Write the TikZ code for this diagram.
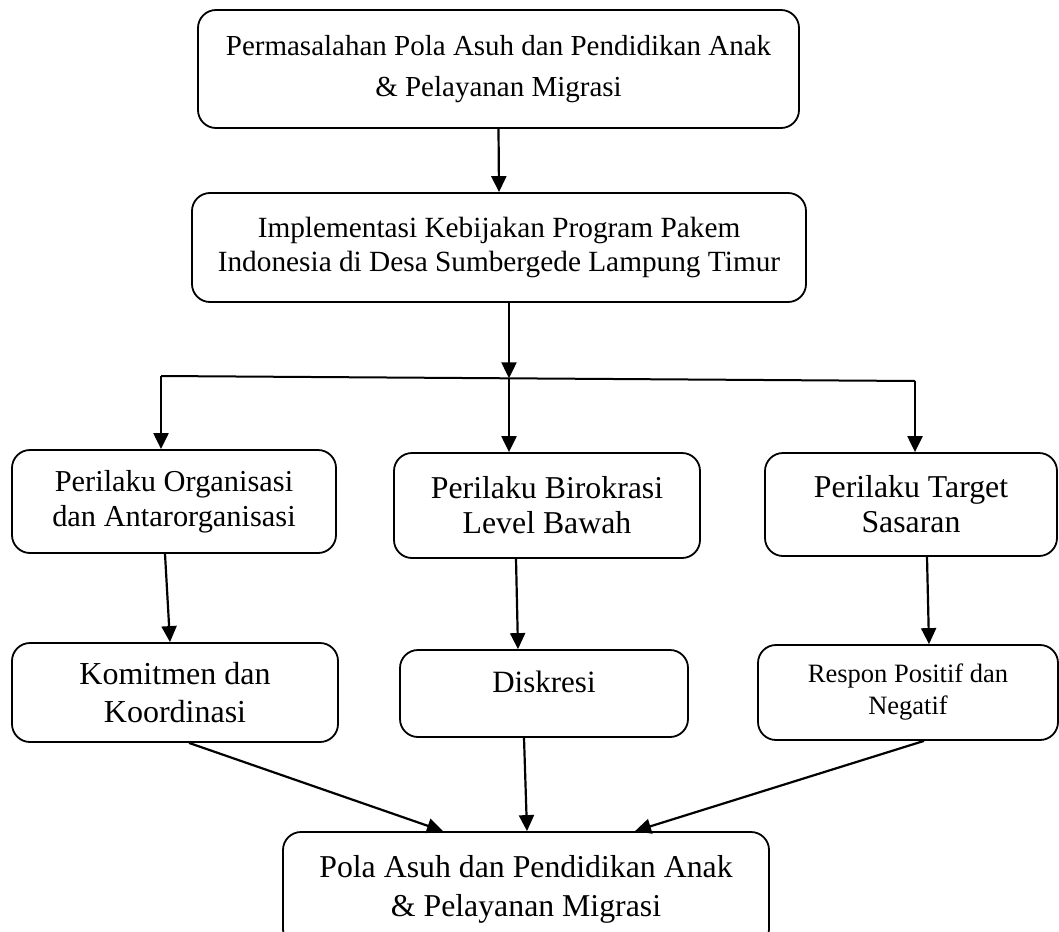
\documentclass[tikz,border=0pt]{standalone}
\usepackage{fontspec}
\setmainfont{Liberation Serif}
\usetikzlibrary{arrows.meta}

\begin{document}
\begin{tikzpicture}[x=1pt, y=-1pt, % 1 Einheit = 1 Pixel, y nach unten
  kotak/.style={draw, line width=1.8pt, rounded corners=18pt, align=center, inner sep=0pt},
  panah/.style={line width=2.2pt, -{Triangle[length=16pt, width=15pt]}}]

\useasboundingbox (0,0) rectangle (1059,931);

% Oberste zwei Kästen
\node[kotak, minimum width=601pt, minimum height=118pt, font=\fontsize{29}{41}\selectfont]
  (masalah) at (498.5,69) {Permasalahan Pola Asuh dan Pendidikan Anak\\\& Pelayanan Migrasi};
\node[kotak, minimum width=614pt, minimum height=109pt, font=\fontsize{29.3}{34}\selectfont]
  (implementasi) at (499,247.5) {Implementasi Kebijakan Program Pakem\\Indonesia di Desa Sumbergede Lampung Timur};

% Querbalken mit drei Abzweigungen
\coordinate (barL) at (161,376);
\coordinate (barM) at (509,378.3);
\coordinate (barR) at (915,381);

% Zweite Reihe
\node[kotak, minimum width=324pt, minimum height=103pt, font=\fontsize{30.4}{35}\selectfont]
  (organisasi) at (174,501.5) {Perilaku Organisasi\\dan Antarorganisasi};
\node[kotak, minimum width=306pt, minimum height=105pt, font=\fontsize{31.8}{35}\selectfont]
  (birokrasi) at (547,505.5) {Perilaku Birokrasi\\Level Bawah};
\node[kotak, minimum width=292pt, minimum height=103pt, font=\fontsize{31.8}{35}\selectfont]
  (target) at (911,504.5) {Perilaku Target\\Sasaran};

% Dritte Reihe
\node[kotak, minimum width=326pt, minimum height=99pt, font=\fontsize{32}{38}\selectfont]
  (komitmen) at (175,692.5) {Komitmen dan\\Koordinasi};
\node[kotak, minimum width=288pt, minimum height=87pt, text height=21pt, text depth=24pt,
  font=\fontsize{31}{36}\selectfont] (diskresi) at (544,693.5) {Diskresi};
\node[kotak, minimum width=300pt, minimum height=95pt, font=\fontsize{26.5}{32}\selectfont]
  (respon) at (908,692.5) {Respon Positif dan\\Negatif};

% Unterster Kasten (unten abgeschnitten)
\node[kotak, minimum width=486pt, minimum height=115pt, font=\fontsize{31.8}{39}\selectfont]
  (polaasuh) at (526,889.5) {Pola Asuh dan Pendidikan Anak\\\& Pelayanan Migrasi};

% Pfeile oben
\draw[panah] (masalah.south) -- (implementasi.north);
\draw[panah] (implementasi.south -| barM) -- (barM);
\draw[line width=2pt] (barL) -- (barR);
\foreach \c/\b in {barL/organisasi, barM/birokrasi, barR/target}
  \draw[panah] (\c) -- (\c |- \b.north);

% Pfeile zur dritten Reihe
\draw[panah] ([xshift=-9pt]organisasi.south) -- ([xshift=-5pt]komitmen.north);
\draw[panah] ([xshift=-31pt]birokrasi.south) -- ([xshift=-26pt]diskresi.north);
\draw[panah] ([xshift=16pt]target.south) -- ([xshift=21pt]respon.north);

% Pfeile zum letzten Kasten
\draw[panah] ([xshift=14pt]komitmen.south) -- ([xshift=-83pt]polaasuh.north);
\draw[panah] ([xshift=-20pt]diskresi.south) -- ([xshift=1pt]polaasuh.north);
\draw[panah] ([xshift=16pt]respon.south) -- ([xshift=109pt]polaasuh.north);
\end{tikzpicture}
\end{document}
